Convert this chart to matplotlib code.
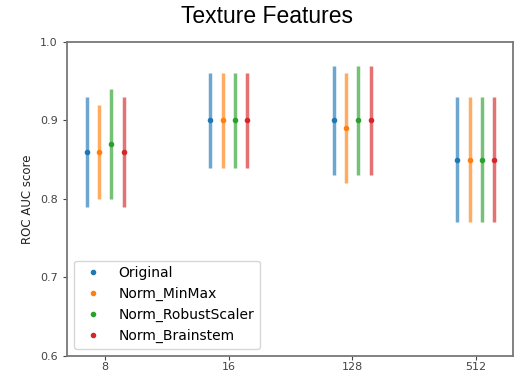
import matplotlib.pyplot as plt
import numpy as np

# bins on the x axis
bins = ['8', '16', '128', '512']
names = ['Original', 'Norm_MinMax', 'Norm_RobustScaler', 'Norm_Brainstem']
colors = ['tab:blue', 'tab:orange', 'tab:green', 'tab:red']

# mean auc and range (low, high) per method
mean = [[0.86, 0.90, 0.90, 0.85],
        [0.86, 0.90, 0.89, 0.85],
        [0.87, 0.90, 0.90, 0.85],
        [0.86, 0.90, 0.90, 0.85]]
low = [[0.79, 0.84, 0.83, 0.77],
       [0.80, 0.84, 0.82, 0.77],
       [0.80, 0.84, 0.83, 0.77],
       [0.79, 0.84, 0.83, 0.77]]
high = [[0.93, 0.96, 0.97, 0.93],
        [0.92, 0.96, 0.96, 0.93],
        [0.94, 0.96, 0.97, 0.93],
        [0.93, 0.96, 0.97, 0.93]]
offsets = [-0.15, -0.05, 0.05, 0.15]

fig = plt.figure(figsize=(5.14, 3.75), dpi=100)
ax = fig.add_axes([0.130, 0.051, 0.868, 0.837])

x = np.arange(len(bins))
for i in range(4):
    m = np.array(mean[i])
    err = [m - np.array(low[i]), np.array(high[i]) - m]
    ax.errorbar(x + offsets[i], m, yerr=err, fmt='none', ecolor=colors[i],
                elinewidth=2.5, alpha=0.65, capsize=0)
    ax.plot(x + offsets[i], m, '.', color=colors[i], markersize=6, label=names[i])

ax.set_xlim(-0.31, 3.3)
ax.set_ylim(0.6, 1.0)
ax.set_xticks(x)
ax.set_xticklabels(bins)
ax.set_yticks([0.6, 0.7, 0.8, 0.9, 1.0])
ax.tick_params(labelsize=8, colors='#444444', length=3)
ax.tick_params(axis='x', pad=1.5)
ax.set_ylabel('ROC AUC score', fontsize=8.5, color='#222222')
for s in ax.spines.values():
    s.set_color('#777777')
    s.set_linewidth(1.3)

ax.legend(loc='lower left', fontsize=10)

fig.text(0.52, 0.955, 'Texture Features', fontsize=16.5, family='Liberation Sans',
         ha='center', va='center')

fig.savefig('out.png')
